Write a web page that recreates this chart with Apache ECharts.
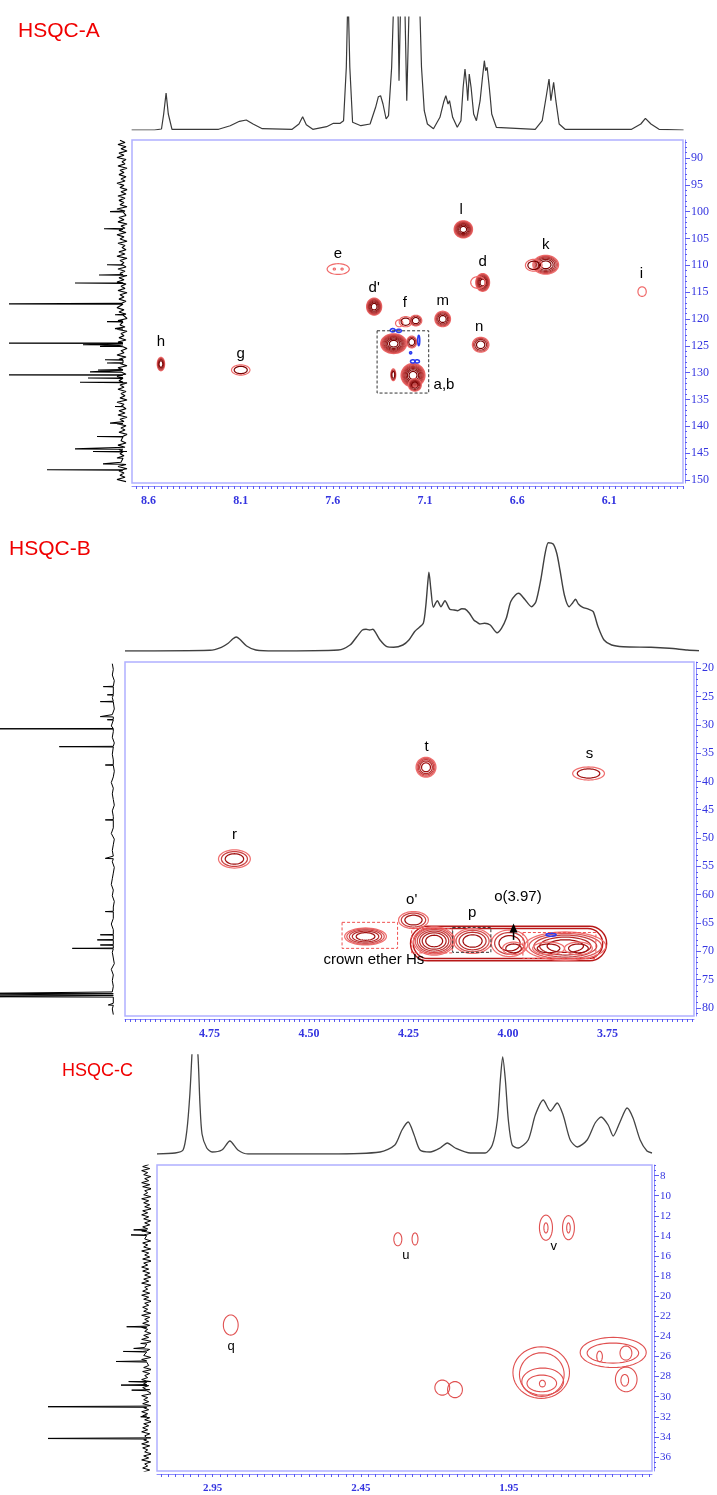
<!DOCTYPE html>
<html><head><meta charset="utf-8">
<script src="https://cdn.jsdelivr.net/npm/echarts@6/dist/echarts.min.js"></script>
<style>html,body{margin:0;padding:0;background:#fff}#c{width:717px;height:1495px}</style>
</head><body><div id="c"></div>
<script>
// ================= DATA =================
const titles = ['HSQC-A', 'HSQC-B', 'HSQC-C'];

// ---- Panel A ----
const xLabelsA = [8.6, 8.1, 7.6, 7.1, 6.6, 6.1];
const yLabelsA = [90, 95, 100, 105, 110, 115, 120, 125, 130, 135, 140, 145, 150];
// 1H projection: [ppm, intensity]
const protonA = [[8.692,0],[8.568,0],[8.530,1],[8.518,16],[8.505,37],[8.493,16],[8.473,0.7],[8.22,0.7],[8.157,4.3],[8.107,8.7],[8.07,10],[8.033,6],[7.983,1.3],[7.821,0.7],[7.784,6],[7.764,13.3],[7.744,5.3],[7.709,0.7],[7.634,3.3],[7.597,6.7],[7.56,6.7],[7.542,9.3],[7.527,62.7],[7.518,140],[7.508,62.7],[7.493,7.7],[7.448,4.3],[7.398,6],[7.368,22.7],[7.353,33.3],[7.341,34.3],[7.328,26],[7.311,11],[7.298,14.3],[7.281,62.7],[7.268,140],[7.248,140],[7.241,49.3],[7.231,140],[7.211,140],[7.199,29.3],[7.184,140],[7.131,140],[7.119,62.7],[7.104,19.3],[7.087,6],[7.054,1.3],[7.019,12.7],[6.999,27.7],[6.987,34.3],[6.975,26],[6.967,29.3],[6.95,12.7],[6.925,2.7],[6.905,9.3],[6.893,42.7],[6.883,61],[6.873,42.7],[6.868,29.3],[6.86,56],[6.85,42.7],[6.836,16],[6.821,9.3],[6.801,29.3],[6.788,52.7],[6.778,69.3],[6.771,59.3],[6.763,62.7],[6.753,46],[6.746,32.7],[6.738,16],[6.713,2.7],[6.502,0.7],[6.464,9.3],[6.44,36],[6.427,51],[6.417,29.3],[6.402,47.7],[6.39,29.3],[6.372,6],[6.34,0.7],[5.979,0.7],[5.929,6],[5.904,11.7],[5.874,6],[5.83,0.7],[5.697,0]];
// 13C projection peaks: [ppm, height]
const carbonPeaksA = [[100.0,13],[103.2,19],[109.9,16],[111.8,24],[113.3,48],[117.2,130],[119.2,8],[120.5,16],[121.8,8],[124.5,130],[124.8,40],[125.1,23],[127.6,18],[128.2,16],[129.5,25],[129.85,33],[130.4,130],[131.0,35],[131.8,43],[136.3,8],[139.4,13],[141.9,26],[144.2,48],[144.7,30],[145.9,8],[147.0,20],[148.1,76]];
const carbonNoiseA = [3,-2,5,-3,2,-4,4,-1,6,-3,1,-2,5,-4,3,-1,4,-3,2,-2,
 6,-1,3,-4,2,-3,5,-2,4,-1,3,-4,6,-2,2,-3,4,-1,5,-4,
 2,-2,4,-3,6,-1,3,-4,5,-2,1,-3,4,-2,6,-4,3,-1,2,-3,
 5,-2,3,-4,4,-1,6,-3,2,-2,5,-4,3,-1,4,-3,2,-2,6,-1,
 4,-3,2,-4,5,-1,3,-2,6,-4,2,-1,4,-3,5,-2,3,-4,2,-1,
 6,-3,4,-2,3,-4,5,-1,2,-3,6,-2,4,-4,3,-1,5,-3,2,-2,
 3,-4,6,-1,2,-3,4,-2,5,-4,3,-1,6,-3,2,-2,4,-4,5,-1,
 2,-3,5,-2,4,-4,3,-1,6,-2,2,-3,5,-4,4,-1,3,-2,6,-3];
// cross peaks: [dH, dC, widthH, widthC, contour levels]
const crossA = [
 [8.533,128.4,0.040,2.5,4],[8.100,129.5,0.100,1.9,2],
 [7.571,110.7,0.120,2.0,1],[7.592,110.7,0.012,0.35,1],[7.550,110.7,0.012,0.35,1],
 [7.376,117.7,0.082,3.2,7],
 [7.240,120.8,0.040,1.3,1],[7.205,120.5,0.070,1.9,2],[7.150,120.3,0.065,2.0,3],
 [7.270,124.6,0.141,3.7,9],[7.172,124.3,0.054,2.2,3],
 [7.165,130.5,0.130,4.4,9],[7.155,132.3,0.070,2.3,4],[7.272,130.4,0.027,2.2,3],
 [7.004,120.0,0.085,2.9,5],[6.892,103.3,0.100,3.2,8],
 [6.787,113.2,0.075,3.3,7],[6.812,113.2,0.080,2.2,1],
 [6.798,124.8,0.090,2.8,4],
 [6.445,109.9,0.140,3.5,6],[6.510,110.0,0.090,2.2,2],
 [5.922,114.9,0.045,1.8,1]
];
const negA = [[7.275,122.1,0.027,0.6],[7.242,122.2,0.027,0.6],[7.134,124.0,0.010,1.9],[7.178,126.3,0.010,0.4],[7.166,127.9,0.025,0.6],[7.143,127.9,0.025,0.6]];
const labelsA = [['h',8.533,124.3],['g',8.10,126.5],['e',7.573,107.9],["d'",7.376,114.2],['f',7.209,117.0],['m',7.004,116.6],['l',6.904,99.7],['d',6.787,109.3],['n',6.806,121.4],['k',6.445,106.2],['i',5.925,111.5],['a,b',6.997,132.3]];
const boxesA = [[7.36,122.2,7.08,133.8]];

// ---- Panel B ----
const xLabelsB = [4.75, 4.50, 4.25, 4.00, 3.75];
const yLabelsB = [20, 25, 30, 35, 40, 45, 50, 55, 60, 65, 70, 75, 80];
const protonB = [[4.9625,0],[4.7505,0.7],[4.722,3.7],[4.705,7.7],[4.693,12.3],[4.685,14],[4.676,11.7],[4.659,5],[4.636,1],[4.59,0],[4.43,1],[4.401,6],[4.384,14.3],[4.37,21],[4.361,21.7],[4.352,21],[4.344,21.7],[4.336,17.7],[4.326,11],[4.309,4.3],[4.292,3.7],[4.269,6],[4.254,11],[4.24,19.3],[4.229,23.3],[4.218,27.7],[4.212,44.3],[4.207,67.7],[4.204,78.7],[4.199,61],[4.193,43.7],[4.183,50.3],[4.174,44.3],[4.164,50.3],[4.152,41.7],[4.141,41],[4.132,40.3],[4.122,42.3],[4.114,42],[4.103,37.7],[4.092,31],[4.086,29.3],[4.077,27],[4.065,27.7],[4.051,26],[4.034,18.3],[4.023,22.7],[4.011,32.7],[4.0,49.3],[3.988,56],[3.98,57.7],[3.965,51.7],[3.948,44.3],[3.937,49.3],[3.925,71],[3.914,97.7],[3.906,108.3],[3.894,107],[3.885,97.7],[3.877,81],[3.866,56],[3.854,44.3],[3.845,48.3],[3.838,51.7],[3.831,47],[3.82,43.7],[3.805,41.7],[3.794,39.3],[3.782,24.3],[3.767,11],[3.748,6],[3.719,4.3],[3.65,3.7],[3.604,2.7],[3.559,1],[3.53,0.3]];
const carbonPeaksB = [[23.25,10],[24.7,6],[25.9,13],[28.55,13],[29.1,6],[30.7,130],[33.86,54],[37.1,8],[46.8,8],[53.6,8],[63.0,8],[67.1,13],[68.0,16],[68.9,13],[69.5,41],[77.45,130],[77.75,130],[78.05,130],[79.5,5]];
const carbonNoiseB = [1,0,1,-1,2,0,1,0,-1,1,0,2,0,1,-1,0,1,0,1,-1,0,2,0,1,0,-1,1,0,1,0,2,-1,0,1,0,1,-1,0,1,2,0,1,-1,0,1,0,2,0,-1,1,0,1,0,-1,2,0,1,0,1,-1,0,1,0];
const crossB = [
 [4.6875,53.7,0.080,3.2,3],[4.206,37.5,0.050,3.5,5],[3.7975,38.6,0.080,2.3,2],
 [4.358,67.4,0.105,3.0,5],[4.2375,64.5,0.075,3.0,3],
 [4.1855,68.2,0.104,5.0,6],[4.089,68.2,0.096,4.4,4],[3.996,68.6,0.092,4.7,3],[3.986,69.5,0.055,2.2,2],
 [3.856,69.1,0.204,5.0,5],[3.898,69.5,0.080,2.2,2],[3.823,69.5,0.070,2.2,2]
];
// outer envelope of the merged band: [dH1, dC1, dH2, dC2]
const bandB = [[4.245,65.6,3.752,71.7],[4.238,66.0,3.762,71.3]];
const negB = [[3.8917,67.1,0.025,0.5]];
const labelsB = [['r',4.6875,49.5],['t',4.2045,33.9],['s',3.795,35.15],["o'",4.242,61.0],['p',4.09,63.3],['o(3.97)',3.975,60.4],['crown ether Hs',4.337,71.6]];
const redBoxesB = [[4.417,64.9,4.2775,69.5],[4.242,66.0,4.14,70.3],[3.9625,66.7,3.779,71.3]];
const blackBoxesB = [[4.139,65.8,4.043,70.2]];
const arrowsB = [[3.986,68.0,65.1]];

// ---- Panel C ----
const xLabelsC = [2.95, 2.45, 1.95];
const yLabelsC = [8, 10, 12, 14, 16, 18, 20, 22, 24, 26, 28, 30, 32, 34, 36];
const protonC = [[3.138,0],[3.077,1],[3.05,4],[3.037,24],[3.027,60],[3.02,100],[3.014,140],[3.0,100],[2.993,50],[2.986,20],[2.97,6],[2.952,2],[2.919,4],[2.892,13],[2.865,4],[2.831,0],[2.554,0],[2.385,2],[2.335,9],[2.311,24],[2.29,32],[2.27,19],[2.25,4],[2.216,2],[2.182,6],[2.158,11],[2.131,6],[2.08,1],[2.03,1],[2.006,9],[1.989,34],[1.979,74],[1.971,97],[1.962,74],[1.952,34],[1.939,9],[1.919,6],[1.885,14],[1.861,39],[1.834,54],[1.81,43],[1.787,51],[1.767,39],[1.743,14],[1.719,7],[1.686,14],[1.659,31],[1.639,37],[1.615,29],[1.598,18],[1.575,32],[1.551,46],[1.531,36],[1.507,14],[1.484,3],[1.467,1]];
const carbonPeaksC = [[13.4,13],[13.9,15.7],[23.04,20],[24.7,6],[25.2,13],[25.5,23.4],[26.5,30.7],[28.5,18],[28.85,25.7],[29.35,15],[31.0,120],[32.0,6],[34.16,120]];
const carbonNoiseC = [-2,4,-3,5,-1,3,-4,2,-2,5,-3,4,-5,2,-1,3,-4,5,-2,3,
 -3,2,-5,4,-1,5,-2,3,-4,2,-3,4,-1,5,-5,3,-2,2,-4,4,
 -1,3,-4,5,-2,2,-3,4,-5,3,-1,5,-2,4,-3,2,-4,3,-2,5,
 -4,2,-1,4,-3,5,-2,3,-5,2,-2,4,-1,3,-4,5,-3,2,-2,4,
 -3,5,-1,2,-4,3,-2,5,-5,4,-1,2,-3,4,-2,3,-4,5,-1,2,
 -2,3,-5,4,-3,2,-1,5,-4,3,-2,4,-3,2,-5,5,-1,3,-2,4,
 -4,3,-2,5,-1,4,-3,2,-5,3,-2,4,-1,5,-3,2,-4,3,-2,5,
 -3,4,-1,2,-5,3,-2,5,-4,2,-1,4,-3,3,-2,5];
const crossC = [
 [2.889,22.87,0.050,2.0,1],
 [2.325,14.33,0.027,1.3,1],[2.267,14.30,0.020,1.2,1],
 [1.825,13.18,0.044,2.5,1],[1.825,13.2,0.014,1.0,1],[1.749,13.18,0.040,2.4,1],[1.749,13.2,0.012,1.0,1],
 [2.175,29.1,0.050,1.5,1],[2.132,29.3,0.050,1.6,1],
 [1.841,27.6,0.191,5.14,1],[1.839,27.8,0.151,4.35,1],[1.836,28.5,0.141,2.7,1],[1.839,28.68,0.100,1.66,1],[1.837,28.7,0.020,0.66,1],
 [1.598,25.6,0.223,3.0,1],[1.599,25.66,0.174,2.0,1],[1.554,28.28,0.073,2.46,1],
 [1.644,26.0,0.019,1.06,1],[1.555,25.66,0.040,1.4,1],[1.559,28.37,0.026,1.16,1]
];
const labelsC = [['q',2.888,24.96],['u',2.298,15.97],['v',1.799,15.0]];

// ================= HELPERS =================
function carbonTrace(peaks, noise, start, step) {
  const pts = noise.map((v, i) => [start + i * step, v]);
  peaks.forEach(([p, h]) => { pts.push([p - 0.06, 0], [p, h], [p + 0.06, 0]); });
  pts.sort((a, b) => a[0] - b[0]);
  return pts.map(([p, v]) => [v, p]);
}
function ticks(anchor, step, min, max) {
  const out = [];
  const k0 = Math.ceil((min - anchor) / step - 1e-9), k1 = Math.floor((max - anchor) / step + 1e-9);
  for (let k = k0; k <= k1; k++) out.push(+(anchor + k * step).toFixed(5));
  return out;
}
function hex(c) { return [1, 3, 5].map(i => parseInt(c.substr(i, 2), 16)); }
function mix(a, b, t) { const pa = hex(a), pb = hex(b); return 'rgb(' + [0, 1, 2].map(i => Math.round(pa[i] + (pb[i] - pa[i]) * t)).join(',') + ')'; }
function ell(cx, cy, rx, ry) { const p = []; for (let i = 0; i < 48; i++) { const a = i / 48 * Math.PI * 2; p.push([cx + rx * Math.cos(a), cy + ry * Math.sin(a)]); } return p; }

function crossRender(c0, c1, lw) {
  return function (params, api) {
    const x = api.value(0), y = api.value(1), w = api.value(2), h = api.value(3), n = api.value(4);
    const c = api.coord([x, y]); const s = api.size([w, h], [x, y]);
    const kids = [];
    for (let k = 0; k < n; k++) {
      const f = Math.sqrt(1 - k / n); const t = n > 1 ? k / (n - 1) : 0;
      kids.push({ type: 'polygon', shape: { points: ell(c[0], c[1], s[0] / 2 * f, s[1] / 2 * f) }, style: { fill: 'none', stroke: mix(c0, c1, t), lineWidth: lw } });
    }
    return { type: 'group', children: kids };
  };
}
function negRender(params, api) {
  const x = api.value(0), y = api.value(1);
  const c = api.coord([x, y]); const s = api.size([api.value(2), api.value(3)], [x, y]);
  return { type: 'polygon', shape: { points: ell(c[0], c[1], Math.max(s[0] / 2, 1), Math.max(s[1] / 2, 1)) }, style: { fill: 'none', stroke: '#2c3cf0', lineWidth: 1.6 } };
}
function labelRender(list, size) {
  return function (params, api) {
    const c = api.coord([api.value(0), api.value(1)]);
    return { type: 'text', x: c[0], y: c[1], style: { text: list[params.dataIndex][0], fill: '#000', font: size + 'px "Liberation Sans", Arial, sans-serif', align: 'center', verticalAlign: 'middle' } };
  };
}
function boxRender(color, dashed, lw, round) {
  return function (params, api) {
    const a = api.coord([api.value(0), api.value(1)]), b = api.coord([api.value(2), api.value(3)]);
    const hgt = Math.abs(b[1] - a[1]);
    return { type: 'rect', shape: { x: Math.min(a[0], b[0]), y: Math.min(a[1], b[1]), width: Math.abs(b[0] - a[0]), height: hgt, r: round ? hgt / 2 : 0 },
      style: { fill: 'none', stroke: color, lineWidth: lw, lineDash: dashed ? [3, 2] : null } };
  };
}
function arrowRender(params, api) {
  const a = api.coord([api.value(0), api.value(1)]), b = api.coord([api.value(0), api.value(2)]);
  return { type: 'group', children: [
    { type: 'line', shape: { x1: a[0], y1: a[1], x2: b[0], y2: b[1] + 6 }, style: { stroke: '#000', lineWidth: 1.5 } },
    { type: 'polygon', shape: { points: [[b[0], b[1]], [b[0] - 4, b[1] + 9], [b[0] + 4, b[1] + 9]] }, style: { fill: '#000' } }
  ] };
}

// ================= LAYOUT =================
const AX = '#8c8cff', TK = '#5a5af0', LB = '#3434e0', SERIF = '"Liberation Serif", "DejaVu Serif", serif';
const P = [
  { box: [132, 140, 551, 343], xr: [5.70, 8.69], yr: [86.65, 150.56], top: [17, 113], left: [10, 117], lx: [-4, 113],
    xl: xLabelsA, yl: yLabelsA, xs: [8.6, 1 / 30], ys: 1, dec: 1, fs: 12 },
  { box: [125, 662, 573, 354], xr: [3.5325, 4.9625], yr: [18.9, 81.45], top: [540, 111], left: [0, 117], lx: [-3.7, 113.3],
    xl: xLabelsB, yl: yLabelsB, xs: [4.75, 0.0125], ys: 1, dec: 2, fs: 12 },
  { box: [157, 1165, 495, 306], xr: [1.467, 3.138], yr: [6.94, 37.4], top: [1055, 99], left: [49, 101], lx: [-3.3, 97.7],
    xl: xLabelsC, yl: yLabelsC, xs: [2.95, 0.025], ys: 0.5, dec: 2, fs: 11 }
];

const grid = [], xAxis = [], yAxis = [], extraY = [];
P.forEach((p, i) => {
  const [l, t, w, h] = p.box;
  grid.push({ left: l, top: t, width: w, height: h, show: true, borderColor: '#b0b0ff', borderWidth: 1.5 });
  grid.push({ left: l, top: p.top[0], width: w, height: p.top[1], show: false });
  grid.push({ left: p.left[0], top: t, width: p.left[1], height: h, show: false });
  const g = i * 3;
  xAxis.push({ gridIndex: g, type: 'value', min: p.xr[0], max: p.xr[1], inverse: true, position: 'bottom', offset: 3,
    axisLine: { show: true, lineStyle: { color: AX, width: 1 } },
    axisTick: { show: true, length: 3, customValues: ticks(p.xs[0], p.xs[1], p.xr[0], p.xr[1]), lineStyle: { color: TK, width: 1 } },
    axisLabel: { customValues: p.xl, color: LB, fontFamily: SERIF, fontSize: p.fs, fontWeight: 'bold', margin: 9, formatter: v => v.toFixed(p.dec) },
    splitLine: { show: false } });
  xAxis.push({ gridIndex: g + 1, type: 'value', min: p.xr[0], max: p.xr[1], inverse: true, show: false });
  xAxis.push({ gridIndex: g + 2, type: 'value', min: p.lx[0], max: p.lx[1], inverse: true, show: false });
  yAxis.push({ gridIndex: g, type: 'value', min: p.yr[0], max: p.yr[1], inverse: true, position: 'right', offset: 2,
    axisLine: { show: true, lineStyle: { color: AX, width: 1 } },
    axisTick: { show: true, length: 2, customValues: ticks(p.yl[0], p.ys, p.yr[0], p.yr[1]), lineStyle: { color: TK } },
    axisLabel: { customValues: p.yl, color: LB, fontFamily: SERIF, fontSize: p.fs, margin: 6 },
    splitLine: { show: false } });
  yAxis.push({ gridIndex: g + 1, type: 'value', min: 0, max: p.top[1], show: false });
  yAxis.push({ gridIndex: g + 2, type: 'value', min: p.yr[0], max: p.yr[1], inverse: true, show: false });
  extraY.push({ gridIndex: g, type: 'value', min: p.yr[0], max: p.yr[1], inverse: true, position: 'right', offset: 2,
    axisLine: { show: false }, axisTick: { show: true, length: 5, customValues: p.yl, lineStyle: { color: TK } },
    axisLabel: { show: false }, splitLine: { show: false } });
});
extraY.forEach(a => yAxis.push(a)); // indices 9,10,11

const series = [];
function spec(ax, data, color, width, smooth) {
  series.push({ type: 'line', xAxisIndex: ax, yAxisIndex: ax, data, symbol: 'none', smooth, clip: true, silent: true,
    lineStyle: { color, width } });
}
function cust(ax, data, renderItem, z) {
  series.push({ type: 'custom', xAxisIndex: ax, yAxisIndex: ax, data, renderItem, silent: true, z: z || 2 });
}
// Panel A
spec(1, protonA, '#3a3a3a', 1.2, false);
spec(2, carbonTrace(carbonPeaksA, carbonNoiseA, 86.7, 0.4), '#000', 1.1, false);
cust(0, crossA, crossRender('#f06a6a', '#7a0000', 1.2));
cust(0, negA, negRender, 3);
cust(0, labelsA.map(d => [d[1], d[2]]), labelRender(labelsA, 15), 4);
cust(0, boxesA, boxRender('#333', true, 1, false), 3);
// Panel B
spec(4, protonB, '#404040', 1.4, 0.25);
spec(5, carbonTrace(carbonPeaksB, carbonNoiseB, 19.2, 1.0), '#000', 1, false);
cust(3, bandB, boxRender('#b81818', false, 1.4, true));
cust(3, crossB, crossRender('#f07070', '#a01010', 1.25));
cust(3, negB, negRender, 3);
cust(3, labelsB.map(d => [d[1], d[2]]), labelRender(labelsB, 15), 4);
cust(3, redBoxesB, boxRender('#f05050', true, 1, false), 3);
cust(3, blackBoxesB, boxRender('#333', true, 1, false), 3);
cust(3, arrowsB, arrowRender, 4);
// Panel C
spec(7, protonC, '#444', 1.3, 0.25);
spec(8, carbonTrace(carbonPeaksC, carbonNoiseC, 6.9, 0.2), '#000', 1, false);
cust(6, crossC, crossRender('#e05050', '#e05050', 1.1));
cust(6, labelsC.map(d => [d[1], d[2]]), labelRender(labelsC, 13), 4);

const titleStyle = (fs) => ({ color: '#f00000', fontSize: fs, fontWeight: 'normal', fontFamily: '"Liberation Sans", Arial, sans-serif' });
const option = {
  animation: false,
  backgroundColor: '#ffffff',
  title: [
    { text: titles[0], left: 18, top: 21, padding: 0, textStyle: titleStyle(21) },
    { text: titles[1], left: 9, top: 539, padding: 0, textStyle: titleStyle(21) },
    { text: titles[2], left: 62, top: 1062, padding: 0, textStyle: titleStyle(18) }
  ],
  grid, xAxis, yAxis, series
};
const chart = echarts.init(document.getElementById('c'), null, { renderer: 'canvas', width: 717, height: 1495 });
chart.setOption(option);
</script>
</body></html>
